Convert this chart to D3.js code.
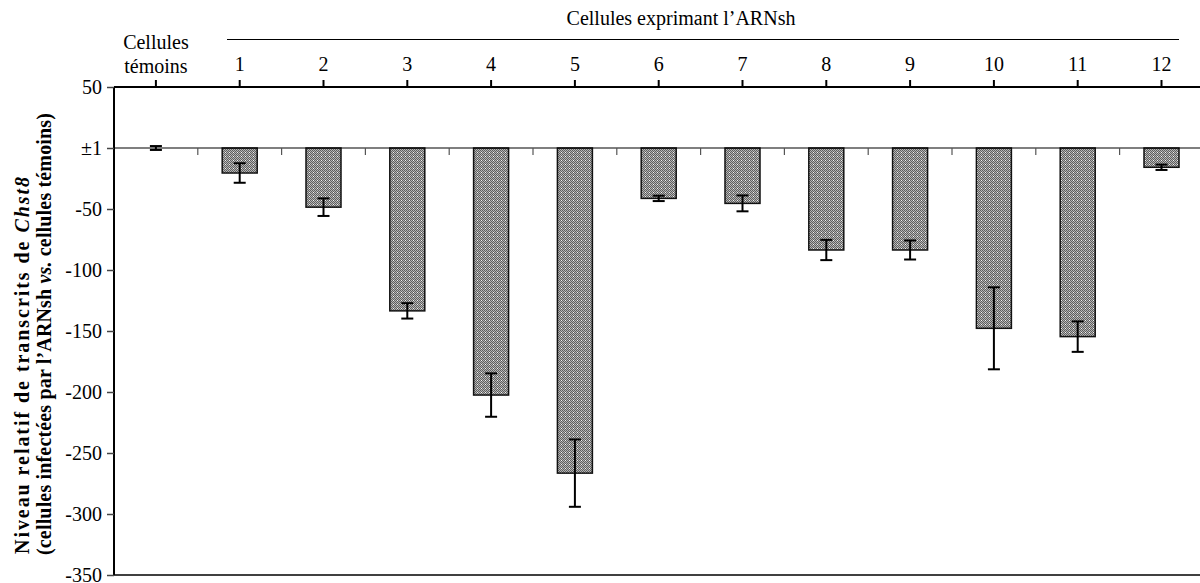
<!DOCTYPE html>
<html><head><meta charset="utf-8">
<script src="https://cdn.jsdelivr.net/npm/d3@7"></script>
<style>body{margin:0;background:#fff}svg{display:block}svg text{font-family:"Liberation Serif","Times New Roman",Tinos,serif !important;fill:#000}</style>
</head><body><svg id="c" width="1200" height="583" font-family="Liberation Serif"></svg>
<script>
const categories = ["Cellules témoins","1","2","3","4","5","6","7","8","9","10","11","12"];
const values = [0,-20.5,-48.5,-133.5,-202.5,-266.5,-41.3,-45.4,-83.6,-83.6,-147.8,-154.6,-15.8];
const errors = [1.6,8,7.2,6.3,17.8,27.6,2.2,6.5,8.3,7.8,33.6,12.5,2.2];
const yTicks = [50,0,-50,-100,-150,-200,-250,-300,-350];
const yTickLabels = ["50","±1","-50","-100","-150","-200","-250","-300","-350"];

(function(){
const FF = "Liberation Serif";
const svg = d3.select("#c");
const pLeft = 114, pTop = 87, pBottom = 575, step = 83.8;
const x = d3.scaleBand().domain(categories).range([pLeft, pLeft + step*categories.length]).padding(0);
const y = d3.scaleLinear().domain([-350, 50]).range([pBottom, pTop]);

const defs = svg.append("defs");
const pat = defs.append("pattern").attr("id","chk").attr("patternUnits","userSpaceOnUse").attr("width",4).attr("height",4);
pat.append("rect").attr("width",4).attr("height",4).attr("fill","#b5b5b5");
[[0,0],[2,0],[1,1],[3,1],[0,2],[2,2],[1,3],[3,3]].forEach(([a,b])=>pat.append("rect").attr("x",a).attr("y",b).attr("width",1).attr("height",1).attr("fill","#5e5e5e"));
pat.append("rect").attr("x",1).attr("y",0).attr("width",1).attr("height",1).attr("fill","#f2f2f2");

// y axis
const yAxis = d3.axisLeft(y).tickValues(yTicks).tickFormat((d,i)=>yTickLabels[i]).tickSize(7).tickPadding(5);
const ga = svg.append("g").attr("transform",`translate(${pLeft},0)`).call(yAxis).attr("font-family",FF).attr("font-size",20);
ga.select(".domain").attr("stroke","#000").attr("stroke-width",2).attr("d",`M0,${pTop}V${pBottom}`);
ga.selectAll(".tick line").attr("stroke","#444").attr("stroke-width",1.5);

// bottom line
svg.append("line").attr("x1",pLeft).attr("x2",1200).attr("y1",pBottom).attr("y2",pBottom).attr("stroke","#000").attr("stroke-width",1.5);

// top axis
const xAxis = d3.axisTop(x).tickSize(7).tickFormat(d => d === categories[0] ? "" : d).tickPadding(9);
const gt = svg.append("g").attr("transform",`translate(0,${pTop})`).call(xAxis).attr("font-family",FF).attr("font-size",20);
gt.select(".domain").attr("stroke","#000").attr("stroke-width",2).attr("d",`M${pLeft},0H1200`);
gt.selectAll(".tick line").attr("stroke","#000").attr("stroke-width",2);

const cx0 = x(categories[0]) + x.bandwidth()/2;
const lab = svg.append("g").attr("font-family",FF).attr("font-size",20);
lab.append("text").attr("x",cx0).attr("y",49).attr("text-anchor","middle").text("Cellules");
lab.append("text").attr("x",cx0).attr("y",73).attr("text-anchor","middle").text("témoins");
lab.append("text").attr("x",681).attr("y",25).attr("text-anchor","middle").text("Cellules exprimant l’ARNsh");
svg.append("line").attr("x1",227).attr("x2",1179).attr("y1",39.5).attr("y2",39.5).attr("stroke","#000").attr("stroke-width",1.2);

// bars
const bw = 35;
svg.append("g").selectAll("rect").data(categories.map((c,i)=>({c,v:values[i],e:errors[i]})).filter(d=>d.v!==0))
  .join("rect")
  .attr("x",d=>x(d.c)+x.bandwidth()/2-bw/2).attr("width",bw)
  .attr("y",y(0)).attr("height",d=>y(d.v)-y(0))
  .attr("fill","url(#chk)").attr("stroke","#111").attr("stroke-width",1.5);

// zero line
svg.append("line").attr("x1",pLeft).attr("x2",1200).attr("y1",y(0)).attr("y2",y(0)).attr("stroke","#000").attr("stroke-width",1.2);
// minor ticks at band boundaries
svg.append("g").selectAll("line").data(categories.slice(1)).join("line")
  .attr("x1",d=>x(d)).attr("x2",d=>x(d)).attr("y1",y(0)).attr("y2",y(0)+7).attr("stroke","#555").attr("stroke-width",1.2);

// error bars
const eg = svg.append("g").selectAll("g").data(categories.map((c,i)=>({c,v:values[i],e:errors[i]}))).join("g");
const cx = d => x(d.c)+x.bandwidth()/2;
eg.append("line").attr("x1",cx).attr("x2",cx)
  .attr("y1",d=>y(d.v+d.e)).attr("y2",d=>y(d.v-d.e)).attr("stroke","#000").attr("stroke-width",2);
eg.append("line").attr("x1",d=>cx(d)-6).attr("x2",d=>cx(d)+6)
  .attr("y1",d=>y(d.v+d.e)).attr("y2",d=>y(d.v+d.e)).attr("stroke","#000").attr("stroke-width",2);
eg.append("line").attr("x1",d=>cx(d)-6).attr("x2",d=>cx(d)+6)
  .attr("y1",d=>y(d.v-d.e)).attr("y2",d=>y(d.v-d.e)).attr("stroke","#000").attr("stroke-width",2);

// y title
const tg = svg.append("g").attr("font-family",FF).attr("font-size",20).attr("font-weight","bold");
const t1 = tg.append("text").attr("transform","translate(29,554) rotate(-90)").attr("text-anchor","start")
  .attr("textLength",377).attr("lengthAdjust","spacing");
t1.append("tspan").text("Niveau relatif de transcrits de ");
t1.append("tspan").attr("font-style","italic").text("Chst8");
const t2 = tg.append("text").attr("transform","translate(51,555) rotate(-90)").attr("text-anchor","start")
  .attr("textLength",442).attr("lengthAdjust","spacing");
t2.append("tspan").text("(cellules infectées par l’ARNsh ");
t2.append("tspan").attr("font-style","italic").text("vs.");
t2.append("tspan").text(" cellules témoins)");
})();
</script></body></html>
